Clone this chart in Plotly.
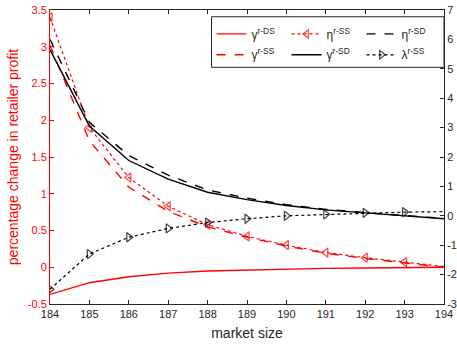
import plotly.graph_objects as go

market_size = [184, 185, 186, 187, 188, 189, 190, 191, 192, 193, 194]

# left axis (percentage change in retailer profit)
gamma_r_DS = [-0.37, -0.21, -0.13, -0.08, -0.05, -0.035, -0.025, -0.015, -0.01, -0.005, 0.0]
gamma_r_SS = [3.02, 1.72, 1.09, 0.76, 0.55, 0.41, 0.29, 0.19, 0.12, 0.06, 0.0]
eta_r_SS = [3.40, 1.90, 1.22, 0.83, 0.58, 0.42, 0.30, 0.20, 0.13, 0.07, 0.01]

# right axis
gamma_r_SD = [5.65, 3.05, 1.88, 1.25, 0.80, 0.55, 0.35, 0.20, 0.10, 0.0, -0.10]
eta_r_SD = [6.0, 3.18, 2.05, 1.38, 0.88, 0.60, 0.38, 0.22, 0.11, 0.01, -0.09]
lambda_r_SS = [-2.5, -1.3, -0.73, -0.43, -0.23, -0.10, 0.0, 0.05, 0.10, 0.125, 0.14]

x_ticks = list(range(184, 195))
left_ticks = [-0.5, 0, 0.5, 1, 1.5, 2, 2.5, 3, 3.5]
left_tick_text = ["-0.5", "0", "0.5", "1", "1.5", "2", "2.5", "3", "3.5"]
right_ticks = [-3, -2, -1, 0, 1, 2, 3, 4, 5, 6, 7]
right_tick_text = ["-3", "-2", "-1", "0", "1", "2", "3", "4", "5", "6", "7"]

RED = "#ff0000"
FONT = "Liberation Sans, Arial, sans-serif"
msizes = [8] * (len(market_size) - 1) + [0]

fig = go.Figure()
fig.add_trace(go.Scatter(x=market_size, y=gamma_r_DS, mode="lines", name="γ<sup>r-DS</sup>",
                         line=dict(color=RED, width=1.4), legend="legend"))
fig.add_trace(go.Scatter(x=market_size, y=eta_r_SS, mode="lines+markers", name="η<sup>r-SS</sup>",
                         line=dict(color=RED, width=1.2, dash="dot"),
                         marker=dict(symbol="triangle-left-open", size=msizes, color=RED, line=dict(width=1.3)),
                         legend="legend"))
fig.add_trace(go.Scatter(x=market_size, y=eta_r_SD, mode="lines", name="η<sup>r-SD</sup>", yaxis="y2",
                         line=dict(color="black", width=1.4, dash="dash"), legend="legend"))
fig.add_trace(go.Scatter(x=market_size, y=gamma_r_SS, mode="lines", name="γ<sup>r-SS</sup>",
                         line=dict(color=RED, width=1.4, dash="dash"), legend="legend2"))
fig.add_trace(go.Scatter(x=market_size, y=gamma_r_SD, mode="lines", name="γ<sup>r-SD</sup>", yaxis="y2",
                         line=dict(color="black", width=1.4), legend="legend2"))
fig.add_trace(go.Scatter(x=market_size, y=lambda_r_SS, mode="lines+markers", name="λ<sup>r-SS</sup>", yaxis="y2",
                         line=dict(color="black", width=1.2, dash="dot"),
                         marker=dict(symbol="triangle-right-open", size=msizes, color="black", line=dict(width=1.3)),
                         legend="legend2"))

legend_common = dict(orientation="h", xanchor="left", yanchor="top", bgcolor="rgba(0,0,0,0)",
                     borderwidth=0,
                     font=dict(family=FONT, size=12, color="#262626"), entrywidth=30,
                     itemwidth=30, tracegroupgap=0)

fig.update_layout(
    width=457, height=347,
    margin=dict(l=50, r=13, t=10, b=43, autoexpand=False),
    paper_bgcolor="white", plot_bgcolor="white",
    font=dict(family=FONT, size=11, color="#262626"),
    xaxis=dict(range=[184, 194], tickvals=x_ticks, ticks="inside", ticklen=4,
               showline=True, linecolor="#262626", linewidth=1, mirror="ticks",
               tickcolor="#262626", showgrid=False, zeroline=False,
               tickfont=dict(size=11, color="#262626"),
               title=dict(text="market size", font=dict(size=14, color="#262626"), standoff=8)),
    yaxis=dict(range=[-0.5, 3.5], tickvals=left_ticks, ticktext=left_tick_text, ticks="inside", ticklen=4,
               showline=True, linecolor=RED, linewidth=1, tickcolor=RED, showgrid=False, zeroline=False,
               tickfont=dict(size=11, color=RED),
               title=dict(text="percentage change in retailer profit", font=dict(size=14, color=RED), standoff=5)),
    yaxis2=dict(range=[-3, 7], tickvals=right_ticks, ticktext=right_tick_text, overlaying="y", side="right",
                ticks="inside", ticklen=4, showline=True, linecolor="#262626", linewidth=1,
                tickcolor="#262626", showgrid=False, zeroline=False,
                tickfont=dict(size=11, color="#262626")),
    legend=dict(x=0.41, y=0.968, **legend_common),
    legend2=dict(x=0.41, y=0.897, **legend_common),
)
fig.add_shape(type="rect", xref="paper", yref="paper", x0=0.41, x1=1.0, y0=0.805, y1=0.977,
              line=dict(color="#262626", width=1), fillcolor="white", layer="above")

fig.write_html("out.html")
